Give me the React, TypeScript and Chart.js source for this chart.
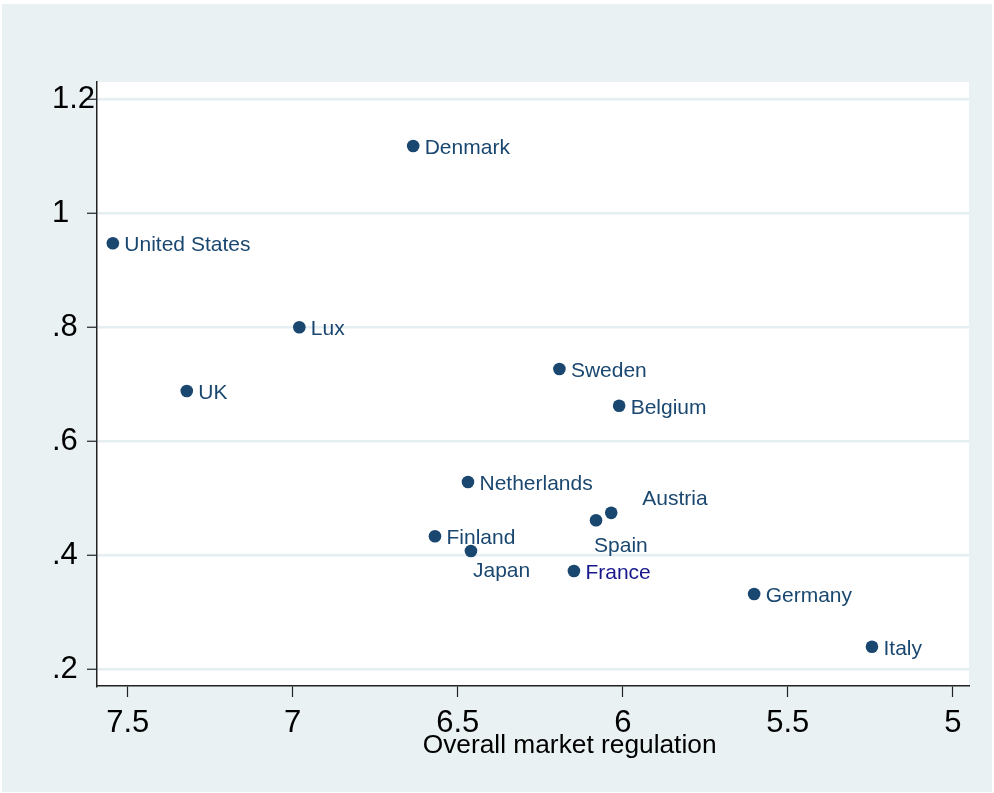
import React, { useEffect, useRef } from "react";
import { Chart, registerables } from "chart.js";

Chart.register(...registerables);

const countries = [
  "Denmark", "United States", "Lux", "UK", "Sweden", "Belgium", "Netherlands",
  "Austria", "Spain", "Finland", "Japan", "France", "Germany", "Italy",
];
const marketRegulation = [
  6.635, 7.545, 6.980, 7.321, 6.192, 6.011, 6.469,
  6.035, 6.081, 6.569, 6.460, 6.148, 5.602, 5.245,
];
const outcome = [
  1.1175, 0.947, 0.7995, 0.6877, 0.7263, 0.6619, 0.528,
  0.474, 0.461, 0.433, 0.407, 0.372, 0.3316, 0.2391,
];
const xTicks = [5, 5.5, 6, 6.5, 7, 7.5];
const xTickLabels = ["5", "5.5", "6", "6.5", "7", "7.5"];
const yTicks = [0.2, 0.4, 0.6, 0.8, 1, 1.2];
const yTickLabels = [".2", ".4", ".6", ".8", "1", "1.2"];
const xTitle = "Overall market regulation";

const MARKER = "#1a476f";
const FONT = "'Liberation Sans', Arial, Helvetica, sans-serif";

// label placement styles (offset of label's left/middle relative to marker)
const labelOffsets: Record<string, [number, number]> = {
  Austria: [31, -16],
  Spain: [-2, 24],
  Japan: [2, 18],
};
const labelColors: Record<string, string> = { France: "#18188c" };

export default function App() {
  const ref = useRef<HTMLCanvasElement | null>(null);

  useEffect(() => {
    document.body.style.margin = "0";
    const canvas = ref.current!;
    const bgPlugin = {
      id: "bg",
      beforeDraw(chart: any) {
        const { ctx, chartArea } = chart;
        ctx.save();
        ctx.fillStyle = "#ffffff";
        ctx.fillRect(0, 0, chart.width, chart.height);
        ctx.fillStyle = "#e9f1f3";
        ctx.fillRect(2, 4, chart.width - 4, chart.height - 5);
        ctx.fillStyle = "#ffffff";
        ctx.fillRect(chartArea.left, chartArea.top, chartArea.right - chartArea.left, chartArea.bottom - chartArea.top);
        ctx.restore();
      },
    };
    const labelPlugin = {
      id: "labels",
      afterDatasetsDraw(chart: any) {
        const { ctx, chartArea } = chart;
        const meta = chart.getDatasetMeta(0);
        ctx.save();
        ctx.font = `21px ${FONT}`;
        ctx.textAlign = "left";
        ctx.textBaseline = "middle";
        meta.data.forEach((pt: any, i: number) => {
          const name = countries[i];
          const off = labelOffsets[name] || [11.5, 0];
          ctx.fillStyle = labelColors[name] || MARKER;
          ctx.fillText(name, pt.x + off[0], pt.y + off[1] + 2);
        });
        // axis title
        ctx.font = `26.3px ${FONT}`;
        ctx.fillStyle = "#000";
        ctx.textAlign = "center";
        ctx.textBaseline = "alphabetic";
        const cx = chartArea.left + (chartArea.right - chartArea.left) * 0.542;
        ctx.fillText(xTitle, cx, chartArea.bottom + 67);
        ctx.restore();
      },
    };

    const chart = new Chart(canvas, {
      type: "scatter",
      data: {
        datasets: [
          {
            data: marketRegulation.map((x, i) => ({ x, y: outcome[i] })),
            backgroundColor: MARKER,
            borderColor: MARKER,
            pointRadius: 6.3,
            pointHoverRadius: 6.3,
            borderWidth: 0,
          },
        ],
      },
      options: {
        animation: false,
        responsive: false,
        events: [],
        layout: { padding: { left: 52, top: 82, right: 25, bottom: 47 } },
        plugins: { legend: { display: false }, tooltip: { enabled: false } },
        scales: {
          x: {
            type: "linear",
            reverse: true,
            min: 4.951,
            max: 7.593,
            afterBuildTicks: (s: any) => {
              s.ticks = xTicks.map((v) => ({ value: v }));
            },
            afterFit: (s: any) => {
              s.height = 60;
            },
            ticks: {
              callback: (v: any) => {
                const i = xTicks.indexOf(Number(v));
                return i >= 0 ? xTickLabels[i] : "";
              },
              font: { size: 31, family: FONT },
              color: "#000",
              padding: 8,
              maxRotation: 0,
              autoSkip: false,
            },
            grid: { drawOnChartArea: false, drawTicks: true, tickLength: 11, tickColor: "#222", tickWidth: 1.2 },
            border: { display: true, color: "#222", width: 1.5 },
          },
          y: {
            type: "linear",
            min: 0.1702,
            max: 1.2298,
            afterBuildTicks: (s: any) => {
              s.ticks = yTicks.map((v) => ({ value: v }));
            },
            afterFit: (s: any) => {
              s.width = 45;
            },
            ticks: {
              callback: (v: any) => {
                const i = yTicks.findIndex((t) => Math.abs(t - Number(v)) < 1e-6);
                return i >= 0 ? yTickLabels[i] : "";
              },
              font: { size: 31, family: FONT },
              color: "#000",
              crossAlign: "far",
              padding: 0,
              autoSkip: false,
            },
            grid: { color: "#e5eef1", lineWidth: 2.5, drawTicks: true, tickLength: 10, tickColor: "#222", tickWidth: 1.2 },
            border: { display: true, color: "#222", width: 1.5 },
          },
        },
      },
      plugins: [bgPlugin, labelPlugin],
    } as any);
    return () => chart.destroy();
  }, []);

  return (
    <div style={{ position: "absolute", left: 0, top: 0, width: 994, height: 793 }}>
      <canvas ref={ref} width={994} height={793} style={{ display: "block", width: 994, height: 793 }} />
    </div>
  );
}
